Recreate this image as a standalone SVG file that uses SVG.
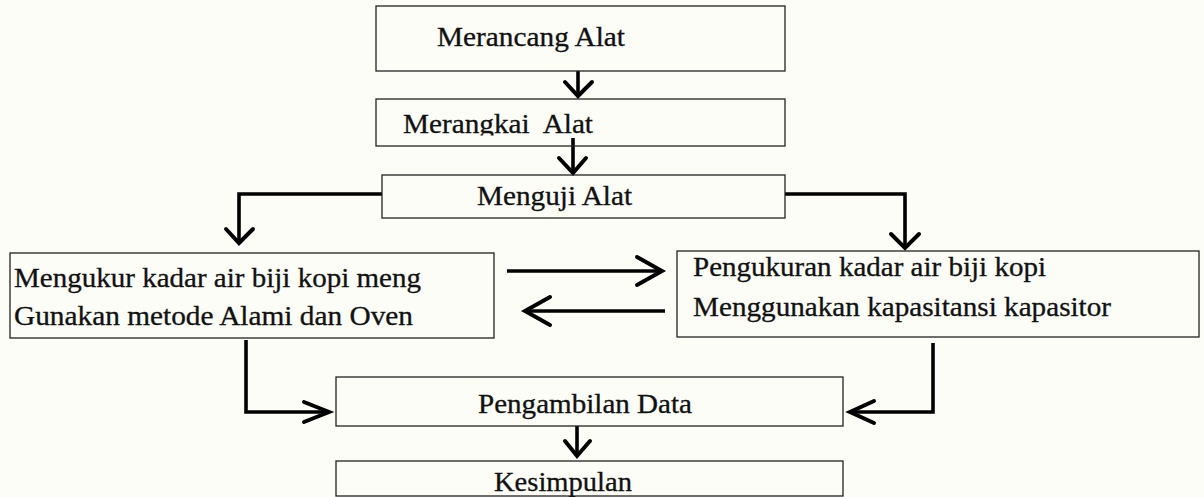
<svg xmlns="http://www.w3.org/2000/svg" width="1204" height="497" viewBox="0 0 1204 497">
  <style>
    .box { fill: none; stroke: #222; stroke-width: 1.3; }
    .t { font-family: "Liberation Serif", "Times New Roman", serif; font-size: 26.5px; fill: #111; stroke: #111; stroke-width: 0.3; }
    .ln { fill: none; stroke: #000; stroke-width: 3.6; stroke-linecap: butt; stroke-linejoin: miter; }
    .hd { fill: none; stroke: #000; stroke-width: 4; stroke-linecap: round; stroke-linejoin: miter; }
  </style>
  <defs>
    <clipPath id="clip2"><rect x="376" y="99" width="409" height="36.5"/></clipPath>
  </defs>
  <rect x="0" y="0" width="1204" height="497" fill="#fdfdf8"/>

  <g id="connectors">
    <line class="ln" x1="578" y1="71" x2="578" y2="96"/>
    <polyline class="hd" points="565,82 578,96 592,82"/>

    <line class="ln" x1="573" y1="138" x2="573" y2="173"/>
    <polyline class="hd" points="559,158 573,173 586,158"/>

    <polyline class="ln" points="382,194 239,194 239,243"/>
    <polyline class="hd" points="226,229 239,243 253,229"/>

    <polyline class="ln" points="785,194 905,194 905,248"/>
    <polyline class="hd" points="891,234 905,248 919,234"/>

    <line class="ln" x1="507" y1="271" x2="662" y2="271"/>
    <polyline class="hd" points="637,257 662,271 637,285"/>

    <line class="ln" x1="665" y1="311" x2="525" y2="311"/>
    <polyline class="hd" points="550,297 525,311 550,325"/>

    <polyline class="ln" points="246,340 246,412 329,412"/>
    <polyline class="hd" points="304,402 329,412 304,422"/>

    <polyline class="ln" points="933,343 933,412 850,412"/>
    <polyline class="hd" points="874,401 850,412 874,423"/>

    <line class="ln" x1="577" y1="426" x2="577" y2="456"/>
    <polyline class="hd" points="565,441 577,456 590,441"/>
  </g>

  <g id="n1">
    <rect class="box" x="376" y="6" width="409" height="65"/>
    <text class="t" x="437" y="46" textLength="188" lengthAdjust="spacingAndGlyphs">Merancang Alat</text>
  </g>
  <g id="n2">
    <rect class="box" x="376" y="99" width="409" height="47"/>
    <text class="t" x="403" y="133" textLength="190" lengthAdjust="spacingAndGlyphs" clip-path="url(#clip2)" xml:space="preserve">Merangkai  Alat</text>
  </g>
  <g id="n3">
    <rect class="box" x="382" y="175" width="403" height="43"/>
    <text class="t" x="477" y="205" textLength="155" lengthAdjust="spacingAndGlyphs">Menguji Alat</text>
  </g>
  <g id="n4">
    <rect class="box" x="10" y="253" width="484" height="85"/>
    <text class="t" x="14" y="287" textLength="407" lengthAdjust="spacingAndGlyphs">Mengukur kadar air biji kopi meng</text>
    <text class="t" x="14" y="325" textLength="399" lengthAdjust="spacingAndGlyphs">Gunakan metode Alami dan Oven</text>
  </g>
  <g id="n5">
    <rect class="box" x="677" y="251" width="522" height="86"/>
    <text class="t" x="693" y="276" textLength="353" lengthAdjust="spacingAndGlyphs">Pengukuran kadar air biji kopi</text>
    <text class="t" x="693" y="316" textLength="418" lengthAdjust="spacingAndGlyphs">Menggunakan kapasitansi kapasitor</text>
  </g>
  <g id="n6">
    <rect class="box" x="336" y="377" width="507" height="49"/>
    <text class="t" x="478" y="413" textLength="214" lengthAdjust="spacingAndGlyphs">Pengambilan Data</text>
  </g>
  <g id="n7">
    <rect class="box" x="336" y="461" width="507" height="35"/>
    <text class="t" x="494" y="491" textLength="138" lengthAdjust="spacingAndGlyphs">Kesimpulan</text>
  </g>
</svg>
